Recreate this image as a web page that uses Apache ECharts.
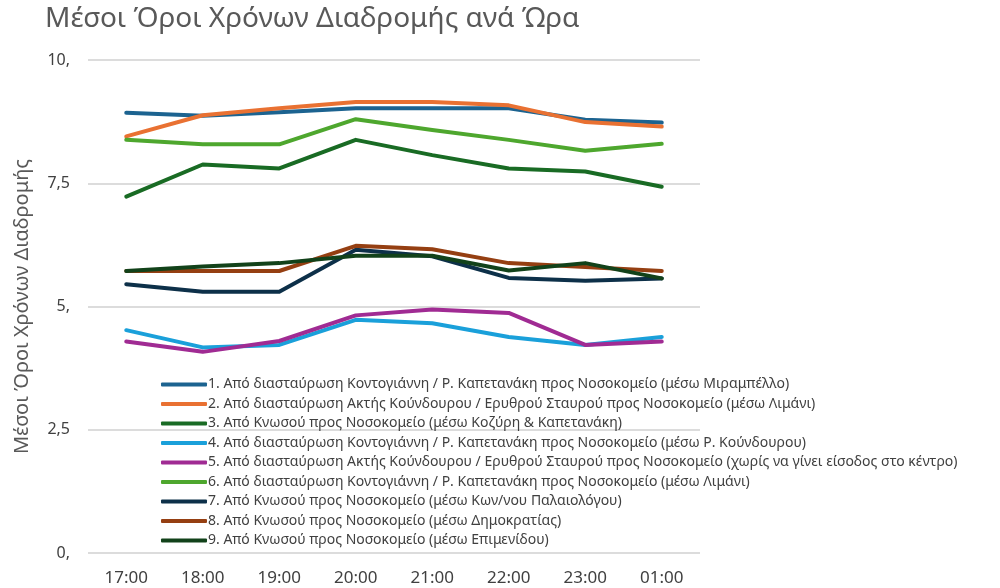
<!DOCTYPE html>
<html lang="el">
<head>
<meta charset="utf-8">
<title>Μέσοι Όροι Χρόνων Διαδρομής ανά Ώρα</title>
<script src="https://cdn.jsdelivr.net/npm/echarts@6/dist/echarts.min.js"></script>
<style>
  html, body { margin: 0; padding: 0; background: #fff; }
  #chart { width: 1000px; height: 588px; }
</style>
</head>
<body>
<div id="chart"></div>
<script>
// ώρες
var hours = ['17:00', '18:00', '19:00', '20:00', '21:00', '22:00', '23:00', '01:00'];

var routeNames = [
  '1. Από διασταύρωση Κοντογιάννη / Ρ. Καπετανάκη προς Νοσοκομείο (μέσω Μιραμπέλλο)',
  '2. Από διασταύρωση Ακτής Κούνδουρου / Ερυθρού Σταυρού προς Νοσοκομείο (μέσω Λιμάνι)',
  '3. Από Κνωσού προς Νοσοκομείο (μέσω Κοζύρη & Καπετανάκη)',
  '4. Από διασταύρωση Κοντογιάννη / Ρ. Καπετανάκη προς Νοσοκομείο (μέσω Ρ. Κούνδουρου)',
  '5. Από διασταύρωση Ακτής Κούνδουρου / Ερυθρού Σταυρού προς Νοσοκομείο (χωρίς να γίνει είσοδος στο κέντρο)',
  '6. Από διασταύρωση Κοντογιάννη / Ρ. Καπετανάκη προς Νοσοκομείο (μέσω Λιμάνι)',
  '7. Από Κνωσού προς Νοσοκομείο (μέσω Κων/νου Παλαιολόγου)',
  '8. Από Κνωσού προς Νοσοκομείο (μέσω Δημοκρατίας)',
  '9. Από Κνωσού προς Νοσοκομείο (μέσω Επιμενίδου)'
];

var route1 = [8.93, 8.87, 8.94, 9.02, 9.02, 9.02, 8.79, 8.73];
var route2 = [8.45, 8.88, 9.02, 9.15, 9.15, 9.08, 8.74, 8.65];
var route3 = [7.23, 7.88, 7.80, 8.38, 8.07, 7.80, 7.74, 7.43];
var route4 = [4.52, 4.17, 4.22, 4.73, 4.66, 4.38, 4.22, 4.38];
var route5 = [4.29, 4.08, 4.30, 4.82, 4.94, 4.87, 4.22, 4.29];
var route6 = [8.38, 8.29, 8.29, 8.80, 8.58, 8.38, 8.16, 8.30];
var route7 = [5.45, 5.30, 5.30, 6.15, 6.02, 5.58, 5.52, 5.57];
var route8 = [5.72, 5.72, 5.72, 6.23, 6.16, 5.88, 5.80, 5.72];
var route9 = [5.72, 5.81, 5.88, 6.03, 6.03, 5.73, 5.88, 5.57];

var routeValues = [route1, route2, route3, route4, route5, route6, route7, route8, route9];
var routeColors = ['#1c6390', '#e97132', '#196b24', '#1aa0da', '#a02b93', '#4ea72e', '#0d3049', '#953f12', '#12421a'];

var seriesList = [];
for (var i = 0; i < routeValues.length; i++) {
  seriesList.push({
    name: routeNames[i],
    type: 'line',
    data: routeValues[i],
    showSymbol: false,
    symbol: 'none',
    lineStyle: { width: 4, color: routeColors[i], cap: 'round', join: 'round' },
    itemStyle: { color: routeColors[i] }
  });
}

var myChart = echarts.init(document.getElementById('chart'));
var option = {
  animation: false,
  textStyle: { fontFamily: 'Noto Sans' },
  title: {
    text: 'Μέσοι Όροι Χρόνων Διαδρομής ανά Ώρα',
    left: 40,
    top: 0,
    textStyle: { fontSize: 28, fontWeight: 'normal', color: '#595959', fontFamily: 'Noto Sans' }
  },
  legend: {
    orient: 'vertical',
    left: 156,
    top: 372,
    icon: 'roundRect',
    itemWidth: 46,
    itemHeight: 4,
    itemGap: 4.5,
    textStyle: { fontSize: 14, color: '#404040', lineHeight: 15, padding: [0, 0, 0, -4] },
    data: routeNames
  },
  grid: { left: 88, right: 300, top: 60, bottom: 35 },
  xAxis: {
    type: 'category',
    data: hours,
    boundaryGap: true,
    axisLine: { show: false },
    axisTick: { show: false },
    axisLabel: { fontSize: 17, color: '#404040', margin: 17 }
  },
  yAxis: {
    type: 'value',
    min: 0,
    max: 10,
    interval: 2.5,
    name: 'Μέσοι Όροι Χρόνων Διαδρομής',
    nameLocation: 'middle',
    nameRotate: 90,
    nameGap: 56,
    nameTextStyle: { fontSize: 20, color: '#595959' },
    axisLine: { show: false },
    axisTick: { show: false },
    splitLine: { lineStyle: { color: '#d0d0d0', width: 1.5 } },
    axisLabel: {
      fontSize: 16,
      color: '#404040',
      margin: 18,
      formatter: function (v) {
        var s = String(v).replace('.', ',');
        return s.indexOf(',') < 0 ? s + ',' : s;
      }
    }
  },
  series: seriesList
};
myChart.setOption(option);
</script>
</body>
</html>
